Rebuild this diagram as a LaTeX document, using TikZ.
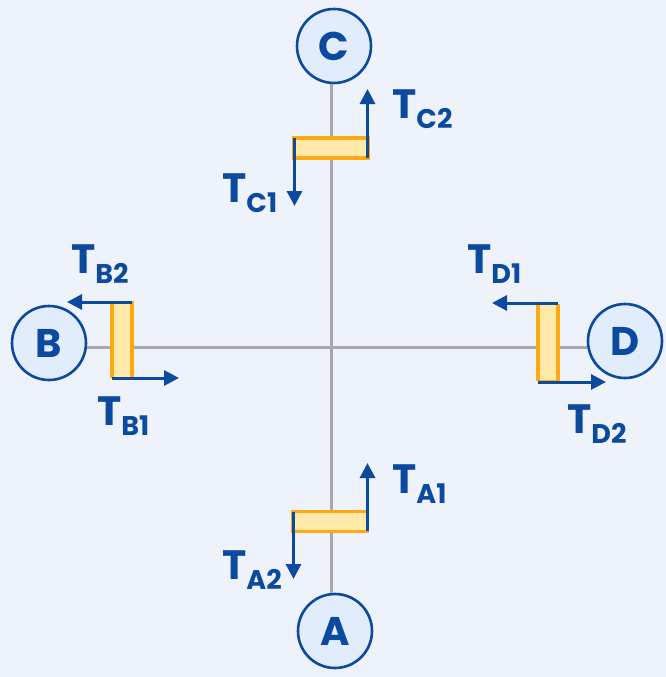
\documentclass[tikz,border=0pt]{standalone}
\usepackage{fontspec}
\setmainfont{Poppins}
\usetikzlibrary{arrows.meta}
\definecolor{bg}{HTML}{EEF2FA}
\definecolor{navy}{HTML}{0B4A9E}
\definecolor{cfill}{HTML}{E1EDFC}
\definecolor{rod}{HTML}{A8A8A8}
\definecolor{barfill}{HTML}{FFE9A8}
\definecolor{barline}{HTML}{FFA812}
\newcommand{\tlab}[1]{{\fontsize{41}{41}\selectfont\bfseries T}\raisebox{-10pt}{\fontsize{27}{27}\selectfont\bfseries #1}}
\begin{document}
\begin{tikzpicture}[x=1pt,y=-1pt,
  wheel/.style={circle,draw=navy,fill=cfill,line width=2.6pt,minimum size=74pt,inner sep=0pt,text=navy,font=\fontsize{40}{40}\selectfont\bfseries},
  rodline/.style={draw=rod,line width=3pt},
  hbar/.style={rectangle,fill=barfill,draw=barline,line width=1.8pt,inner sep=0pt,minimum width=76pt,minimum height=18pt},
  vbar/.style={rectangle,fill=barfill,draw=barline,line width=1.8pt,inner sep=0pt,minimum width=18pt,minimum height=76pt},
  edge/.style={draw=barline,line width=3.4pt},
  force/.style={draw=navy,line width=3pt,-{Triangle[length=15pt,width=15pt]}},
  flab/.style={text=navy,inner sep=0pt,anchor=base west}]
\fill[bg] (0,0) rectangle (666,677);
\useasboundingbox (0,0) rectangle (666,677);
% wheels
\node[wheel] (C) at (334,46) {C};
\node[wheel] (A) at (335,631) {A};
\node[wheel] (B) at (49,343) {B};
\node[wheel] (D) at (625,341) {D};
% rods
\coordinate (mid) at (331,347);
\draw[rodline] (C.south -| mid) -- (A.north -| mid);
\draw[rodline] (B.east |- mid) -- (D.west |- mid);
% bars
\node[hbar] (barC) at (331,148) {};
\node[hbar] (barA) at (330,521.5) {};
\node[vbar] (barB) at (122,339.5) {};
\node[vbar] (barD) at (548,342.5) {};
\draw[edge] (barC.north west) -- (barC.north east) (barC.south west) -- (barC.south east);
\draw[edge] (barA.north west) -- (barA.north east) (barA.south west) -- (barA.south east);
\draw[edge] (barB.north west) -- (barB.south west) (barB.north east) -- (barB.south east);
\draw[edge] (barD.north west) -- (barD.south west) (barD.north east) -- (barD.south east);
% force tips
\coordinate (tC1) at (294.5,206);
\coordinate (tC2) at (367.5,89);
\coordinate (tA1) at (367.5,463);
\coordinate (tA2) at (293.5,579);
\coordinate (tB2) at (67,302);
\coordinate (tB1) at (179,378);
\coordinate (tD1) at (492,303);
\coordinate (tD2) at (606,382);
% forces
\draw[force] (barC.north west -| tC1) -- (tC1);
\draw[force] (barC.south east -| tC2) -- (tC2);
\draw[force] (barA.south east -| tA1) -- (tA1);
\draw[force] (barA.north west -| tA2) -- (tA2);
\draw[force] (barB.north east |- tB2) -- (tB2);
\draw[force] (barB.south west |- tB1) -- (tB1);
\draw[force] (barD.north east |- tD1) -- (tD1);
\draw[force] (barD.south west |- tD2) -- (tD2);
% labels
\node[flab] (lC2) at (392,118) {\tlab{C2}};
\node[flab] (lC1) at (222,202) {\tlab{C1}};
\node[flab] (lB2) at (71,273) {\tlab{B2}};
\node[flab] (lB1) at (97,425) {\tlab{B1}};
\node[flab] (lD1) at (467,273) {\tlab{D1}};
\node[flab] (lD2) at (567,433) {\tlab{D2}};
\node[flab] (lA1) at (392,493) {\tlab{A1}};
\node[flab] (lA2) at (222,579) {\tlab{A2}};
\end{tikzpicture}
\end{document}
